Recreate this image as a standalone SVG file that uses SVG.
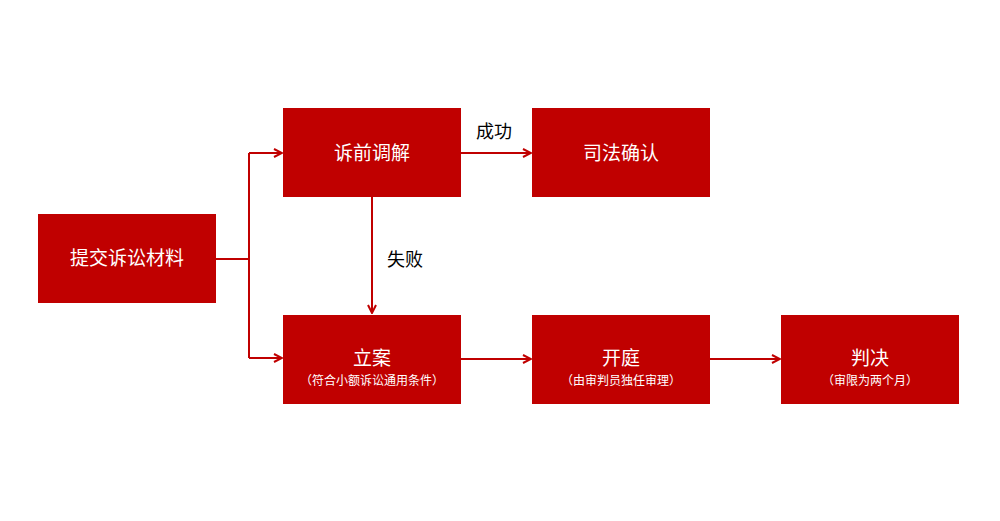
<svg xmlns="http://www.w3.org/2000/svg" width="1000" height="521" viewBox="0 0 1000 521">
<style>
.box{fill:#C00000}
.t{font-family:"Noto Sans CJK SC","Liberation Sans",sans-serif;fill:#fff;text-anchor:middle}
.m{font-size:19px}
.s{font-size:12px}
.c{fill:none;stroke:#C00000;stroke-width:2}
.lbl{font-family:"Noto Sans CJK SC","Liberation Sans",sans-serif;font-size:18px;fill:#000;text-anchor:middle}
</style>
<defs>
<marker id="arr" viewBox="0 0 10 10" refX="9" refY="5" markerWidth="10" markerHeight="10" markerUnits="userSpaceOnUse" orient="auto">
<path d="M1,1 L9,5 L1,9" fill="none" stroke="#C00000" stroke-width="2"/>
</marker>
</defs>
<rect width="1000" height="521" fill="#fff"/>
<g id="connectors">
<path class="c" d="M216,259 H249"/>
<path class="c" d="M249,153 V358"/>
<path class="c" d="M249,153 H282" marker-end="url(#arr)"/>
<path class="c" d="M249,358 H282" marker-end="url(#arr)"/>
<path class="c" d="M461,153 H531" marker-end="url(#arr)"/>
<path class="c" d="M372,197 V313" marker-end="url(#arr)"/>
<path class="c" d="M461,359 H531" marker-end="url(#arr)"/>
<path class="c" d="M710,359 H780" marker-end="url(#arr)"/>
<text class="lbl" x="494" y="138">成功</text>
<text class="lbl" x="405" y="266">失败</text>
</g>
<g id="n1"><rect class="box" x="38" y="214" width="178" height="89"/><text class="t m" x="127" y="265">提交诉讼材料</text></g>
<g id="n2"><rect class="box" x="283" y="108" width="178" height="89"/><text class="t m" x="372" y="160">诉前调解</text></g>
<g id="n3"><rect class="box" x="532" y="108" width="178" height="89"/><text class="t m" x="621" y="160">司法确认</text></g>
<g id="n4"><rect class="box" x="283" y="315" width="178" height="89"/><text class="t m" x="372" y="365">立案</text><text class="t s" x="372" y="385">（符合小额诉讼通用条件）</text></g>
<g id="n5"><rect class="box" x="532" y="315" width="178" height="89"/><text class="t m" x="621" y="365">开庭</text><text class="t s" x="621" y="385">（由审判员独任审理）</text></g>
<g id="n6"><rect class="box" x="781" y="315" width="178" height="89"/><text class="t m" x="870" y="365">判决</text><text class="t s" x="870" y="385">（审限为两个月）</text></g>
</svg>
